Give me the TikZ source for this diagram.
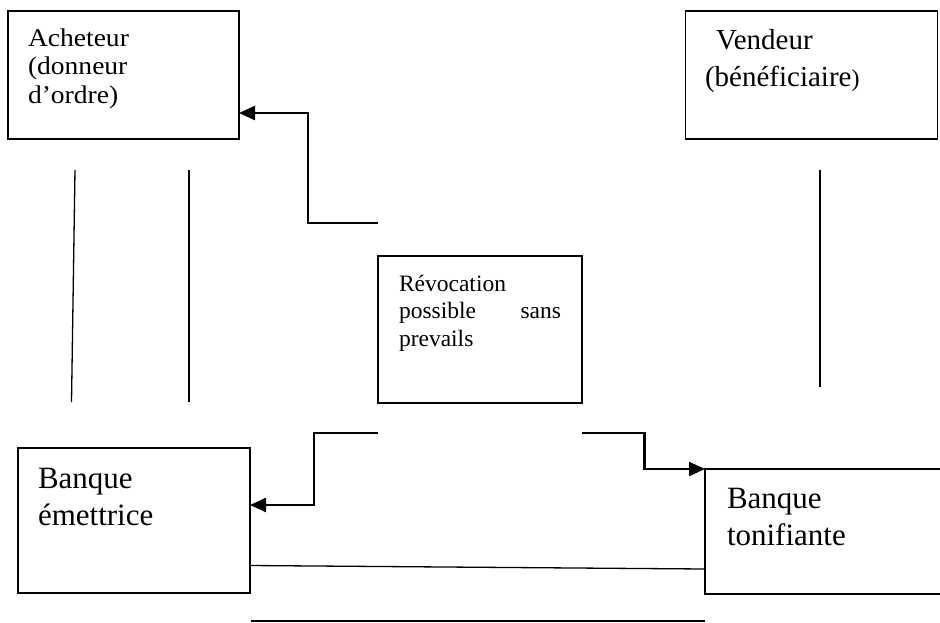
\documentclass[tikz,border=0pt]{standalone}
\usepackage{fontspec}
\setmainfont{Liberation Serif}
\newfontfamily\widerserif[FakeStretch=1.08]{Liberation Serif}
\usetikzlibrary{arrows.meta}

\tikzset{
  box/.style={draw, line width=1.4pt, inner sep=0pt, outer sep=0pt, anchor=north west},
  txt/.style={inner sep=0pt, outer sep=0pt, anchor=base west},
  conn/.style={line width=2.3pt},
  tipped/.style={conn, -{Triangle[length=16pt,width=14pt]}},
  link/.style={line width=1.3pt},
}

\newcommand{\buyertext}{\widerserif\fontsize{25.5}{28.5}\selectfont}
\newcommand{\notetext}{\fontsize{23.5}{27.5}\selectfont}
\newcommand{\midtext}{\fontsize{29}{37}\selectfont}
\newcommand{\bigtext}{\fontsize{31}{37.5}\selectfont}

\begin{document}
\begin{tikzpicture}[x=1pt, y=-1pt]
  \useasboundingbox (0,0) rectangle (940,622);
  \clip (0,0) rectangle (940,622);

  % parties
  \node[box, minimum width=231pt, minimum height=128pt] (acheteur) at (8,11) {};
  \node[box, minimum width=252pt, minimum height=128pt] (vendeur) at (685.5,11) {};
  \node[box, minimum width=204pt, minimum height=147pt] (revocation) at (378,256) {};
  \node[box, minimum width=232pt, minimum height=145pt] (emettrice) at (18,448) {};
  \node[box, minimum width=250pt, minimum height=125pt] (tonifiante) at (705,469) {};

  % labels
  \node[txt] (tacheteur) at (28,46)
    {\parbox[t]{200pt}{\buyertext Acheteur\\(donneur\\d’ordre)}};
  \node[txt] (tvendeur) at (705,49)
    {\parbox[t]{230pt}{\midtext\hspace*{11pt}Vendeur\\(bénéficiaire{\fontsize{24}{24}\selectfont)}}};
  \node[txt] (trevocation) at (399,291)
    {\parbox[t]{162pt}{\notetext Révocation\\possible\hfill sans\\prevails}};
  \node[txt] (temettrice) at (38,488)
    {\parbox[t]{200pt}{\bigtext Banque\\émettrice}};
  \node[txt] (ttonifiante) at (727,508)
    {\parbox[t]{200pt}{\bigtext Banque\\tonifiante}};

  % free ends of the connectors
  \coordinate (fromA) at (378,223);
  \coordinate (fromE) at (378,433);
  \coordinate (fromT) at (582,433);
  \coordinate (intoA) at ([yshift=-38pt]acheteur.east);
  \coordinate (intoE) at ([yshift=15.5pt]emettrice.east);

  % revocation notices
  \draw[tipped] (fromA) -- (308,223) |- (intoA);
  \draw[tipped] (fromE) -- (314,433) |- (intoE);
  \draw[tipped] (fromT) -- (644.5,433) |- (tonifiante.north west);

  % vertical links
  \coordinate (l1a) at (75,170);   \coordinate (l1b) at (71.5,402);
  \coordinate (l2a) at (189,170);  \coordinate (l2b) at (189,402);
  \coordinate (l3a) at (820,170);  \coordinate (l3b) at (820,387);
  \draw[link] (l1a) -- (l1b);
  \draw[link] (l2a) -- (l2b);
  \draw[link] (l3a) -- (l3b);

  % bank to bank
  \draw[link] ([yshift=-45pt]emettrice.east) -- ([yshift=-37.5pt]tonifiante.west);
  \coordinate (baseL) at (250.5,621);
  \coordinate (baseR) at (705,621);
  \draw[link] (baseL) -- (baseR);
\end{tikzpicture}
\end{document}
